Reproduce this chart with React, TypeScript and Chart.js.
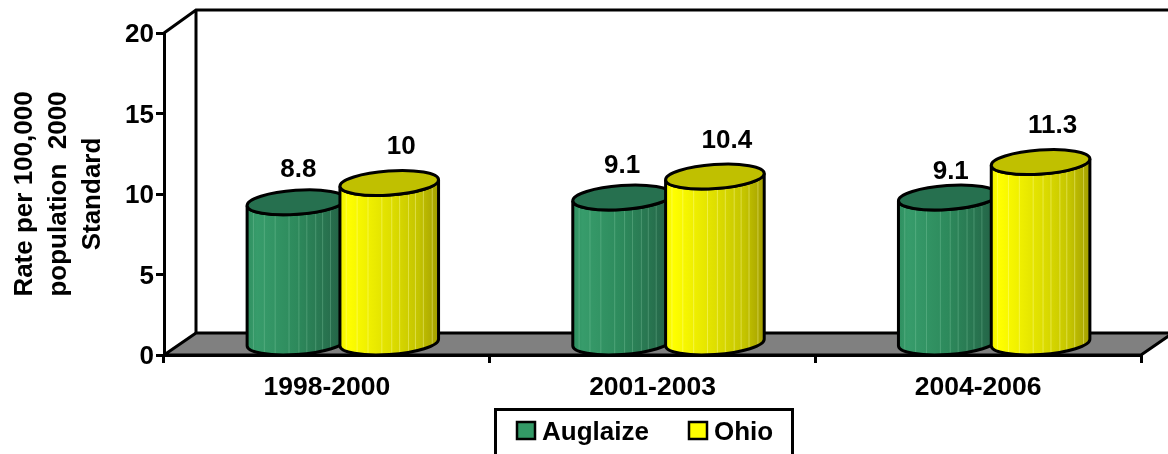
import React, { useEffect, useRef } from "react";
import { Chart, registerables } from "chart.js";

Chart.register(...registerables);

const categories = ["1998-2000", "2001-2003", "2004-2006"];
const auglaize = [8.8, 9.1, 9.1];
const ohio = [10, 10.4, 11.3];
const yTicks = [0, 5, 10, 15, 20];
const axisTitle = ["Rate per 100,000", "population  2000", "Standard"];

const FONT = '"Liberation Sans", Arial, sans-serif';
const DEPTH_X = 32;
const DEPTH_Y = 22;
const BAR_SHIFT_X = 16;
const BAR_SHIFT_Y = 11;
const TILT = -0.07;
const RY = 12;

const palettes = [
  { top: "#26704f", stops: [[0, "#2f8f60"], [0.1, "#379c6b"], [0.5, "#2d8a5c"], [0.8, "#28734f"], [1, "#235f45"]], line: "rgba(150,215,180,0.3)" },
  { top: "#c0c000", stops: [[0, "#f0f000"], [0.08, "#ffff00"], [0.5, "#dfdf00"], [0.8, "#c4c400"], [1, "#a39e00"]], line: "rgba(255,255,170,0.4)" },
];
const stripeFractions = [0.06, 0.17, 0.28, 0.42, 0.52, 0.6, 0.69, 0.76, 0.84, 0.93];
const labelOffset = [{ x: 2, y: 43 }, { x: 12, y: 47 }];
const labelNudge = [[0, 0], [-2, 0], [1, 6]];

function drawCylinder(ctx: any, bar: any, pal: any) {
  const rx = (bar.width * 1.065) / 2;
  const cx = bar.x + BAR_SHIFT_X;
  const topY = bar.y - BAR_SHIFT_Y;
  const botY = bar.base - BAR_SHIFT_Y;
  const t0 = Math.atan((-RY / rx) * Math.tan(TILT));
  const left = cx - rx;
  const grad = ctx.createLinearGradient(left, 0, cx + rx, 0);
  for (const [o, c] of pal.stops) grad.addColorStop(o, c);
  const body = new Path2D();
  body.ellipse(cx, botY, rx, RY, TILT, t0, t0 + Math.PI);
  body.ellipse(cx, topY, rx, RY, TILT, t0 + Math.PI, t0, true);
  body.closePath();
  ctx.save();
  ctx.fillStyle = grad;
  ctx.fill(body);
  ctx.clip(body);
  ctx.fillStyle = pal.line;
  for (const f of stripeFractions) ctx.fillRect(left + f * 2 * rx, topY - RY, 1, botY - topY + 2 * RY);
  ctx.restore();
  ctx.save();
  ctx.lineWidth = 3;
  ctx.strokeStyle = "#000";
  ctx.stroke(body);
  ctx.beginPath();
  ctx.ellipse(cx, topY, rx, RY, TILT, 0, Math.PI * 2);
  ctx.fillStyle = pal.top;
  ctx.fill();
  ctx.stroke();
  ctx.restore();
}

const cylinders = {
  id: "cylinders",
  beforeDraw(chart: any) {
    const { ctx, chartArea: a } = chart;
    ctx.save();
    ctx.lineWidth = 3;
    ctx.strokeStyle = "#000";
    ctx.lineJoin = "miter";
    ctx.fillStyle = "#808080";
    ctx.beginPath();
    ctx.moveTo(a.left, a.bottom);
    ctx.lineTo(a.left + DEPTH_X, a.bottom - DEPTH_Y);
    ctx.lineTo(a.right + DEPTH_X, a.bottom - DEPTH_Y);
    ctx.lineTo(a.right, a.bottom);
    ctx.closePath();
    ctx.fill();
    ctx.stroke();
    ctx.beginPath();
    ctx.moveTo(a.left, a.top);
    ctx.lineTo(a.left + DEPTH_X, a.top - DEPTH_Y - 1);
    ctx.lineTo(a.right + DEPTH_X, a.top - DEPTH_Y - 1);
    ctx.moveTo(a.left + DEPTH_X, a.top - DEPTH_Y - 1);
    ctx.lineTo(a.left + DEPTH_X, a.bottom - DEPTH_Y);
    ctx.stroke();
    ctx.restore();
  },
  beforeDatasetsDraw(chart: any) {
    chart.data.datasets.forEach((_: any, i: number) => {
      for (const bar of chart.getDatasetMeta(i).data) drawCylinder(chart.ctx, bar, palettes[i]);
    });
  },
  beforeDatasetDraw() {
    return false;
  },
  afterDatasetsDraw(chart: any) {
    const { ctx, data } = chart;
    ctx.save();
    ctx.font = `bold 26px ${FONT}`;
    ctx.fillStyle = "#000";
    ctx.textAlign = "center";
    ctx.textBaseline = "middle";
    data.datasets.forEach((ds: any, i: number) => {
      chart.getDatasetMeta(i).data.forEach((bar: any, j: number) => {
        const n = i === 0 ? labelNudge[j] : [0, 0];
        ctx.fillText(String(ds.data[j]), bar.x + BAR_SHIFT_X + labelOffset[i].x + n[0], bar.y - labelOffset[i].y + n[1]);
      });
    });
    ctx.restore();
  },
  afterDraw(chart: any) {
    const { ctx, data } = chart;
    ctx.save();
    ctx.strokeStyle = "#000";
    ctx.lineWidth = 3;
    ctx.strokeRect(495.5, 409.5, 297, 60);
    ctx.font = `bold 26px ${FONT}`;
    ctx.textBaseline = "middle";
    ctx.textAlign = "left";
    const boxX = [517, 689];
    data.datasets.forEach((ds: any, i: number) => {
      ctx.fillStyle = ds.backgroundColor;
      ctx.lineWidth = 2.5;
      ctx.fillRect(boxX[i], 422, 18, 17);
      ctx.strokeRect(boxX[i], 422, 18, 17);
      ctx.fillStyle = "#000";
      ctx.fillText(ds.label, boxX[i] + 25, 433);
    });
    ctx.restore();
  },
};

export default function App() {
  const ref = useRef<HTMLCanvasElement | null>(null);
  useEffect(() => {
    const chart = new Chart(ref.current as HTMLCanvasElement, {
      type: "bar",
      data: {
        labels: categories,
        datasets: [
          { label: "Auglaize", data: auglaize, backgroundColor: "#339966" },
          { label: "Ohio", data: ohio, backgroundColor: "#ffff00" },
        ],
      },
      options: {
        animation: false,
        responsive: false,
        devicePixelRatio: 1,
        layout: { padding: { top: 33, right: 27, left: 0, bottom: 0 } },
        datasets: { bar: { categoryPercentage: 0.57, barPercentage: 1 } },
        plugins: { legend: { display: false }, tooltip: { enabled: false }, title: { display: false } },
        scales: {
          x: {
            afterFit: (s: any) => { s.height = 99; },
            grid: { drawOnChartArea: false, offset: true, color: "#000", lineWidth: 3, tickLength: 8, tickWidth: 3, tickColor: "#000" },
            border: { color: "#000", width: 3 },
            ticks: { color: "#000", font: { family: FONT, size: 26.5, weight: "bold" }, padding: 9, maxRotation: 0 },
          },
          y: {
            min: 0,
            max: 20,
            afterFit: (s: any) => { s.width = 164; },
            afterBuildTicks: (s: any) => { s.ticks = yTicks.map((value) => ({ value })); },
            grid: { drawOnChartArea: false, color: "#000", lineWidth: 3, tickLength: 8, tickWidth: 3, tickColor: "#000" },
            border: { color: "#000", width: 3 },
            ticks: { color: "#000", font: { family: FONT, size: 26, weight: "bold" }, padding: 2, labelOffset: 2 },
            title: {
              display: true,
              text: axisTitle,
              color: "#000",
              font: { family: FONT, size: 26, weight: "bold", lineHeight: 1.3 },
              padding: { top: 8, bottom: 0 },
            },
          },
        },
      },
      plugins: [cylinders],
    } as any);
    return () => chart.destroy();
  }, []);
  return (
    <div style={{ position: "absolute", left: 0, top: 0, width: 1168, height: 454, overflow: "hidden" }}>
      <canvas ref={ref} width={1168} height={454} style={{ display: "block" }} />
    </div>
  );
}
